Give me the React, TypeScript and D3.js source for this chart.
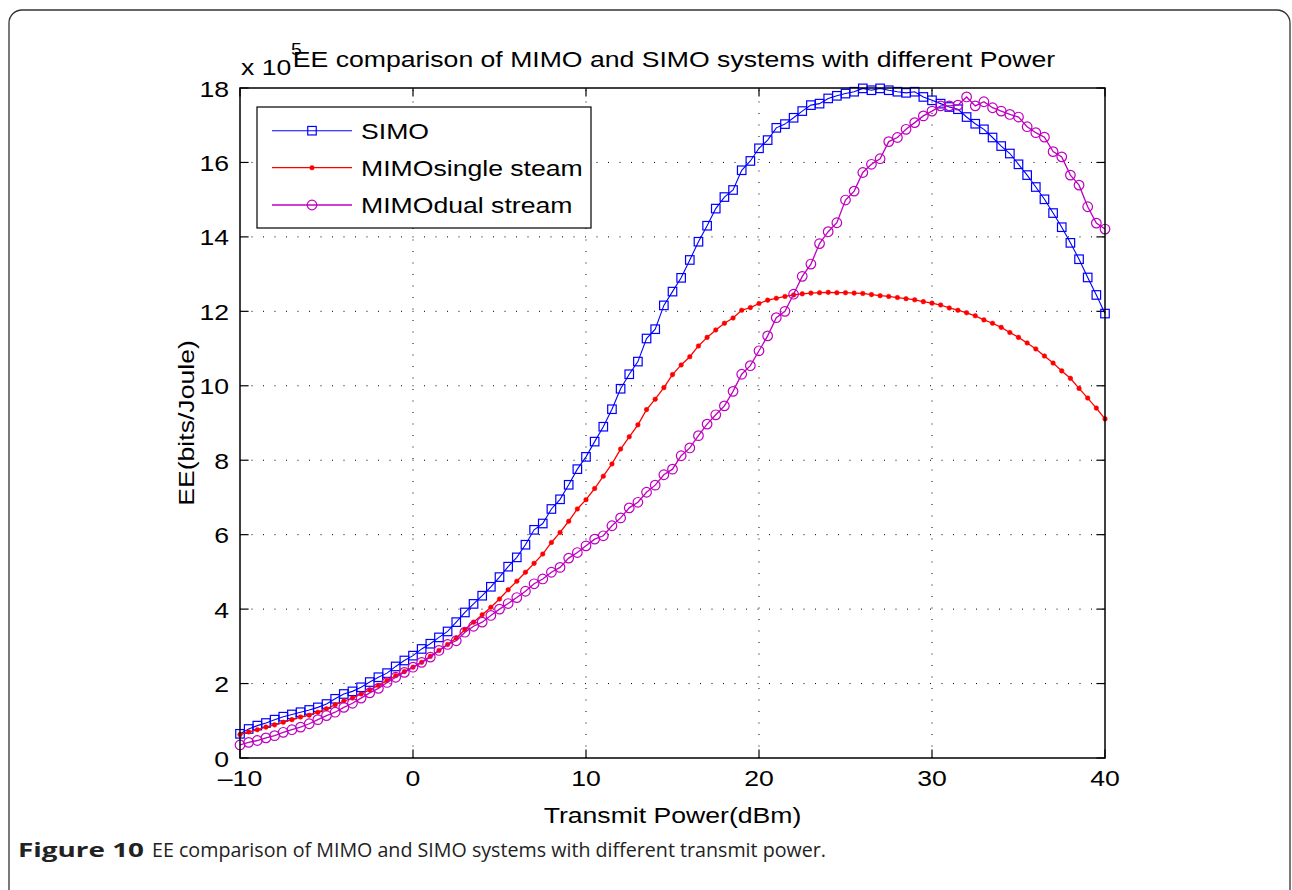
import React from 'react';
import * as d3 from 'd3';

// Transmit power sample points (dBm), 0.5 dB grid from -10 to 40
const POWER_DBM: number[] = d3.range(-10, 40.001, 0.5);

// EE values (x 10^5 bits/Joule)
const SIMO: number[] = [
  0.65, 0.78, 0.87, 0.94, 1.03, 1.11, 1.17, 1.23, 1.29, 1.36,
  1.45, 1.59, 1.72, 1.79, 1.90, 2.04, 2.17, 2.28, 2.46, 2.62,
  2.75, 2.93, 3.07, 3.24, 3.40, 3.65, 3.91, 4.14, 4.36, 4.60,
  4.86, 5.14, 5.39, 5.73, 6.13, 6.30, 6.69, 6.95, 7.34, 7.76,
  8.09, 8.50, 8.90, 9.37, 9.92, 10.31, 10.65, 11.27, 11.52, 12.16,
  12.53, 12.90, 13.38, 13.87, 14.30, 14.76, 15.07, 15.26, 15.79, 16.04,
  16.38, 16.60, 16.93, 17.03, 17.20, 17.38, 17.54, 17.58, 17.72, 17.79,
  17.85, 17.90, 17.99, 17.94, 17.99, 17.94, 17.90, 17.87, 17.90, 17.76,
  17.67, 17.58, 17.49, 17.43, 17.22, 17.04, 16.89, 16.67, 16.44, 16.24,
  15.95, 15.66, 15.34, 15.01, 14.64, 14.26, 13.84, 13.40, 12.91, 12.44,
  11.94,
];

const MIMO_SINGLE: number[] = [
  0.63, 0.70, 0.76, 0.83, 0.89, 0.96, 1.03, 1.10, 1.15, 1.23,
  1.32, 1.43, 1.53, 1.61, 1.72, 1.83, 1.95, 2.08, 2.21, 2.32,
  2.44, 2.57, 2.73, 2.89, 3.05, 3.22, 3.45, 3.65, 3.85, 4.05,
  4.27, 4.52, 4.75, 4.99, 5.23, 5.48, 5.79, 6.06, 6.36, 6.69,
  6.94, 7.24, 7.57, 7.90, 8.30, 8.63, 8.95, 9.36, 9.64, 9.95,
  10.30, 10.56, 10.78, 11.07, 11.30, 11.50, 11.68, 11.82, 12.03, 12.10,
  12.21, 12.30, 12.35, 12.40, 12.44, 12.47, 12.49, 12.50, 12.51, 12.50,
  12.50, 12.49, 12.48, 12.45, 12.42, 12.40, 12.37, 12.34, 12.31, 12.26,
  12.22, 12.17, 12.09, 12.03, 11.96, 11.88, 11.77, 11.68, 11.57, 11.43,
  11.30, 11.15, 10.99, 10.80, 10.61, 10.40, 10.20, 9.93, 9.67, 9.40,
  9.11,
];

const MIMO_DUAL: number[] = [
  0.35, 0.42, 0.47, 0.54, 0.60, 0.69, 0.76, 0.83, 0.92, 1.03,
  1.14, 1.23, 1.36, 1.47, 1.61, 1.75, 1.87, 2.03, 2.17, 2.30,
  2.44, 2.57, 2.71, 2.89, 3.05, 3.15, 3.38, 3.54, 3.65, 3.83,
  4.00, 4.15, 4.31, 4.48, 4.68, 4.81, 4.99, 5.12, 5.37, 5.52,
  5.70, 5.88, 5.97, 6.24, 6.45, 6.72, 6.87, 7.14, 7.33, 7.61,
  7.76, 8.12, 8.33, 8.66, 8.97, 9.22, 9.46, 9.85, 10.31, 10.54,
  10.94, 11.34, 11.83, 12.00, 12.46, 12.94, 13.27, 13.82, 14.14, 14.38,
  14.99, 15.23, 15.73, 15.95, 16.10, 16.56, 16.67, 16.89, 17.07, 17.25,
  17.38, 17.52, 17.52, 17.54, 17.76, 17.52, 17.63, 17.47, 17.38, 17.29,
  17.22, 16.96, 16.80, 16.68, 16.29, 16.15, 15.66, 15.39, 14.81, 14.37,
  14.21,
];

const SERIES_NAMES = ['SIMO', 'MIMOsingle steam', 'MIMOdual stream'];
const X_TICKS = [-10, 0, 10, 20, 30, 40];
const X_TICK_LABELS = ['\u201310', '0', '10', '20', '30', '40'];
const Y_TICKS = [0, 2, 4, 6, 8, 10, 12, 14, 16, 18];
const Y_TICK_LABELS = ['0', '2', '4', '6', '8', '10', '12', '14', '16', '18'];
const TITLE = 'EE comparison of MIMO and SIMO systems with different Power';
const X_LABEL = 'Transmit Power(dBm)';
const Y_LABEL = 'EE(bits/Joule)';
const EXPONENT_BASE = 'x 10';
const EXPONENT = '5';
const CAPTION_BOLD = 'Figure 10';
const CAPTION_TEXT = 'EE comparison of MIMO and SIMO systems with different transmit power.';

const W = 1292;
const H = 890;
const PL = 240, PR = 1105, PT = 88, PB = 758;
const SX = 1.21;
const FONT = "'Liberation Sans', Arial, Helvetica, sans-serif";
const CAPTION_FONT = "'Liberation Sans Narrow', 'Open Sans', 'Liberation Sans', sans-serif";

const BLUE = '#0000ff';
const RED = '#ff0000';
const MAG = '#bf00bf';

type TProps = { x: number; y: number; anchor?: string; size?: number; rotate?: number; children: React.ReactNode; weight?: string };
function T({ x, y, anchor = 'start', size = 22, rotate = 0, children, weight = 'normal' }: TProps) {
  return (
    <text
      transform={`translate(${x},${y}) rotate(${rotate}) scale(${SX},1)`}
      textAnchor={anchor as any}
      fontSize={size}
      fontFamily={FONT}
      fontWeight={weight}
      fill="#000"
    >
      {children}
    </text>
  );
}

function Marker({ kind, cx, cy, color }: { kind: string; cx: number; cy: number; color: string }) {
  if (kind === 'square') {
    const s = 8.5;
    return <rect x={cx - s / 2} y={cy - s / 2} width={s} height={s} fill="none" stroke={color} strokeWidth={1.2} />;
  }
  if (kind === 'dot') {
    return <circle cx={cx} cy={cy} r={2.3} fill={color} stroke={color} strokeWidth={0.5} />;
  }
  return <circle cx={cx} cy={cy} r={4.8} fill="none" stroke={color} strokeWidth={1.2} />;
}

export default function App() {
  const x = d3.scaleLinear().domain([-10, 40]).range([PL, PR]);
  const y = d3.scaleLinear().domain([0, 18]).range([PB, PT]);

  const series = [
    { name: SERIES_NAMES[0], values: SIMO, color: BLUE, kind: 'square', width: 1.1 },
    { name: SERIES_NAMES[1], values: MIMO_SINGLE, color: RED, kind: 'dot', width: 1.3 },
    { name: SERIES_NAMES[2], values: MIMO_DUAL, color: MAG, kind: 'circle', width: 1.3 },
  ];

  const line = d3.line<number>()
    .x((_, i) => x(POWER_DBM[i]))
    .y((d) => y(d));

  const tickLen = 8.6;
  const legendX = 257, legendY = 107, legendW = 334, legendH = 121;
  const rowY = [130.7, 167.7, 205];

  return (
    <svg width={W} height={H} style={{ position: 'absolute', left: 0, top: 0, background: '#fff' }}>
      <rect x={0} y={0} width={W} height={H} fill="#fff" />
      {/* page frame */}
      <rect x={9} y={10} width={1281} height={1000} rx={13} ry={13} fill="none" stroke="#333" strokeWidth={1.3} />

      {/* grid */}
      <g stroke="#000" strokeWidth={1} strokeDasharray="1,10.5">
        {X_TICKS.filter((t) => t > -10 && t < 40).map((t) => (
          <line key={'gx' + t} x1={x(t)} x2={x(t)} y1={PB} y2={PT} />
        ))}
        {Y_TICKS.filter((t) => t > 0 && t < 18).map((t) => (
          <line key={'gy' + t} x1={PL} x2={PR} y1={y(t)} y2={y(t)} />
        ))}
      </g>

      {/* ticks */}
      <g stroke="#000" strokeWidth={1.2}>
        {X_TICKS.map((t) => (
          <g key={'tx' + t}>
            <line x1={x(t)} x2={x(t)} y1={PB} y2={PB - tickLen} />
            <line x1={x(t)} x2={x(t)} y1={PT} y2={PT + tickLen} />
          </g>
        ))}
        {Y_TICKS.map((t) => (
          <g key={'ty' + t}>
            <line x1={PL} x2={PL + tickLen} y1={y(t)} y2={y(t)} />
            <line x1={PR} x2={PR - tickLen} y1={y(t)} y2={y(t)} />
          </g>
        ))}
      </g>

      {/* series */}
      {series.map((s) => (
        <g key={s.name}>
          <path d={line(s.values) || ''} fill="none" stroke={s.color} strokeWidth={s.width} />
          {s.values.map((v, i) => (
            <Marker key={i} kind={s.kind} cx={x(POWER_DBM[i])} cy={y(v)} color={s.color} />
          ))}
        </g>
      ))}

      {/* axes box */}
      <rect x={PL} y={PT} width={PR - PL} height={PB - PT} fill="none" stroke="#000" strokeWidth={1.5} />

      {/* tick labels */}
      {X_TICKS.map((t, i) => (
        <T key={'xl' + t} x={x(t)} y={786} anchor="middle">{X_TICK_LABELS[i]}</T>
      ))}
      {Y_TICKS.map((t, i) => (
        <T key={'yl' + t} x={229} y={y(t) + 8.5} anchor="end">{Y_TICK_LABELS[i]}</T>
      ))}

      {/* exponent */}
      <T x={241} y={75}>{EXPONENT_BASE}</T>
      <T x={291} y={55} size={16}>{EXPONENT}</T>

      {/* title and axis labels */}
      <T x={674} y={67} anchor="middle">{TITLE}</T>
      <T x={672.5} y={823} anchor="middle">{X_LABEL}</T>
      <T x={194} y={423} anchor="middle" rotate={-90}>{Y_LABEL}</T>

      {/* legend */}
      <rect x={legendX} y={legendY} width={legendW} height={legendH} fill="#fff" stroke="#000" strokeWidth={1.2} />
      {series.map((s, i) => (
        <g key={'lg' + s.name}>
          <line x1={272} x2={352} y1={rowY[i]} y2={rowY[i]} stroke={s.color} strokeWidth={s.width} />
          <Marker kind={s.kind} cx={312} cy={rowY[i]} color={s.color} />
          <T x={361} y={rowY[i] + 8}>{s.name}</T>
        </g>
      ))}

      {/* caption */}
      <text x={18} y={857} fontSize={20} fontFamily={CAPTION_FONT} fontWeight="bold" fill="#222"
        textLength={126} lengthAdjust="spacingAndGlyphs">{CAPTION_BOLD}</text>
      <text x={152} y={857} fontSize={20} fontFamily={CAPTION_FONT} fill="#222"
        textLength={674} lengthAdjust="spacingAndGlyphs">{CAPTION_TEXT}</text>
    </svg>
  );
}
